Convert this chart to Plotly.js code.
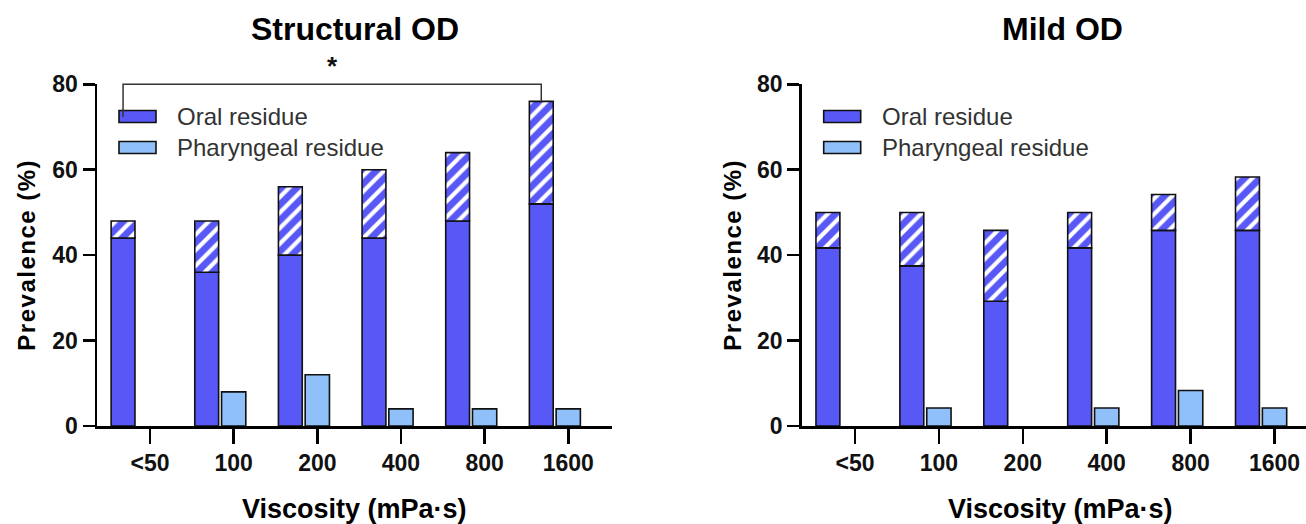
<!DOCTYPE html>
<html>
<head>
<meta charset="utf-8">
<script src="https://cdn.plot.ly/plotly-3.0.1.min.js"></script>
<style>
html,body{margin:0;padding:0;background:#fff;}
#chart{width:1306px;height:524px;}
</style>
</head>
<body>
<div id="chart"></div>
<script>
// ---- data ----
const categories = ["<50", "100", "200", "400", "800", "1600"];
const panelTitles = ["Structural OD", "Mild OD"];
// Structural OD
const structOralBase  = [44, 36, 40, 44, 48, 52];
const structOralTotal = [48, 48, 56, 60, 64, 76];
const structPharyngeal = [0, 8, 12, 4, 4, 4];
// Mild OD
const mildOralBase  = [41.7, 37.5, 29.2, 41.7, 45.8, 45.8];
const mildOralTotal = [50, 50, 45.8, 50, 54.2, 58.3];
const mildPharyngeal = [0, 4.2, 0, 4.2, 8.3, 4.2];
const seriesNames = ["Oral residue", "Pharyngeal residue"];
const yTicks = [0, 20, 40, 60, 80];

// ---- style ----
const W = 1306, H = 524;
const DARK = "#5858f6", LIGHT = "#8fc0f9";
const FONT = "Liberation Sans, Arial, sans-serif";
const xs = categories.map((c, i) => i);
const OR_OFF = -0.465, OR_W = 0.285, PH_OFF = -0.145, PH_W = 0.29;
const outline = {color: "#111", width: 1.6};

const yDom = [1 - 426 / H, 1 - 84.3 / H];
const xDom1 = [97 / W, 612 / W];
const xDom2 = [801.7 / W, 1];
const px = x => x / W, py = y => 1 - y / H;
const yPaper = v => yDom[0] + v / 80 * (yDom[1] - yDom[0]);

function panelTraces(base, total, phar, xa, ya) {
  return [
    {type: "bar", x: xs, y: base, xaxis: xa, yaxis: ya, width: OR_W, offset: OR_OFF,
     marker: {color: DARK, line: outline}, name: seriesNames[0], showlegend: false, hoverinfo: "y"},
    {type: "bar", x: xs, y: total.map((t, i) => t - base[i]), base: base, xaxis: xa, yaxis: ya,
     width: OR_W, offset: OR_OFF,
     marker: {color: DARK, line: outline,
              pattern: {shape: "/", fgcolor: "#ffffff", bgcolor: DARK, size: 11, solidity: 0.38}},
     name: seriesNames[0], showlegend: false, hoverinfo: "y"},
    {type: "bar", x: xs, y: phar, xaxis: xa, yaxis: ya, width: PH_W, offset: PH_OFF,
     marker: {color: LIGHT, line: {color: "#111", width: phar.map(v => v > 0 ? 1.6 : 0)}},
     name: seriesNames[1], showlegend: false, hoverinfo: "y"}
  ];
}

const data = [
  ...panelTraces(structOralBase, structOralTotal, structPharyngeal, "x", "y"),
  ...panelTraces(mildOralBase, mildOralTotal, mildPharyngeal, "x2", "y2")
];

function xAxis(dom, range, anchor) {
  return {domain: dom, range: range, anchor: anchor, tickmode: "array", tickvals: xs, ticktext: categories,
    showgrid: false, zeroline: false, showline: true, linecolor: "#000", linewidth: 2.5,
    ticks: "outside", ticklen: 15, tickwidth: 2.5, tickcolor: "#000",
    tickfont: {family: FONT, size: 23, color: "#111", weight: "bold"}, fixedrange: true};
}
function yAxis(anchor) {
  return {domain: yDom, range: [0, 80], anchor: anchor, tickmode: "array", tickvals: yTicks,
    showgrid: false, zeroline: false, showline: true, linecolor: "#000", linewidth: 2.5,
    ticks: "outside", ticklen: 12, tickwidth: 2.5, tickcolor: "#000",
    tickfont: {family: FONT, size: 23, color: "#111", weight: "bold"}, fixedrange: true};
}

const annotations = [];
const shapes = [];
const panels = [{dom: xDom1, xref: "x"}, {dom: xDom2, xref: "x2"}];
const titleX = [355, 1062], yTitleX = [26, 732], xTitleX = [354, 1060];
panels.forEach((p, k) => {
  annotations.push({text: panelTitles[k], xref: "paper", yref: "paper", x: px(titleX[k]), y: py(29),
    xanchor: "center", yanchor: "middle", showarrow: false,
    font: {family: FONT, size: 32, color: "#000", weight: "bold"}});
  annotations.push({text: "Prevalence (%)", xref: "paper", yref: "paper", x: px(yTitleX[k]),
    y: (yDom[0] + yDom[1]) / 2, xanchor: "center", yanchor: "middle", textangle: -90, showarrow: false,
    font: {family: FONT, size: 24, color: "#000", weight: "bold"}});
  annotations.push({text: "Viscosity (mPa·s)", xref: "paper", yref: "paper", x: px(xTitleX[k]), y: py(509),
    xanchor: "center", yanchor: "middle", showarrow: false,
    font: {family: FONT, size: 27, color: "#000", weight: "bold"}});
  // legend
  const ax0 = p.dom[0] * W;
  const legY = [116.5, 147.5];
  [DARK, LIGHT].forEach((col, j) => {
    shapes.push({type: "rect", xref: "paper", yref: "paper",
      x0: px(ax0 + 22), x1: px(ax0 + 59), y0: py(legY[j] - 6), y1: py(legY[j] + 6),
      fillcolor: col, line: {color: "#111", width: 1.6}});
    annotations.push({text: seriesNames[j], xref: "paper", yref: "paper", x: px(ax0 + 78), y: py(legY[j]),
      xanchor: "left", yanchor: "middle", showarrow: false,
      font: {family: FONT, size: 24, color: "#333"}});
  });
});

// significance bracket on Structural OD (<50 vs 1600, oral residue)
const brX0 = xs[0] + OR_OFF + OR_W / 2, brX1 = xs[5] + OR_OFF + OR_W / 2;
const brTop = yPaper(80), brBot = yPaper(76);
shapes.push({type: "path", xref: "x", yref: "paper",
  path: `M ${brX0},${brBot - 0.03} L ${brX0},${brTop} L ${brX1},${brTop} L ${brX1},${brBot}`,
  line: {color: "#333", width: 1.5}, layer: "above"});
annotations.push({text: "*", xref: "x", yref: "paper", x: (brX0 + brX1) / 2, y: py(66),
  xanchor: "center", yanchor: "middle", showarrow: false,
  font: {family: FONT, size: 26, color: "#111", weight: "bold"}});

const layout = {
  width: W, height: H, margin: {l: 0, r: 0, t: 0, b: 0},
  paper_bgcolor: "#fff", plot_bgcolor: "rgba(0,0,0,0)",
  barmode: "overlay", showlegend: false,
  xaxis: xAxis(xDom1, [-0.634, 5.523], "y"),
  yaxis: yAxis("x"),
  xaxis2: xAxis(xDom2, [-0.635, 5.375], "y2"),
  yaxis2: yAxis("x2"),
  annotations: annotations, shapes: shapes,
  font: {family: FONT}
};

Plotly.newPlot("chart", data, layout, {displayModeBar: false, staticPlot: true}).then(() => {
  document.querySelectorAll(".annotation-text").forEach(t => {
    if (t.textContent === "Prevalence (%)") t.style.letterSpacing = "1.5px";
  });
});
</script>
</body>
</html>
